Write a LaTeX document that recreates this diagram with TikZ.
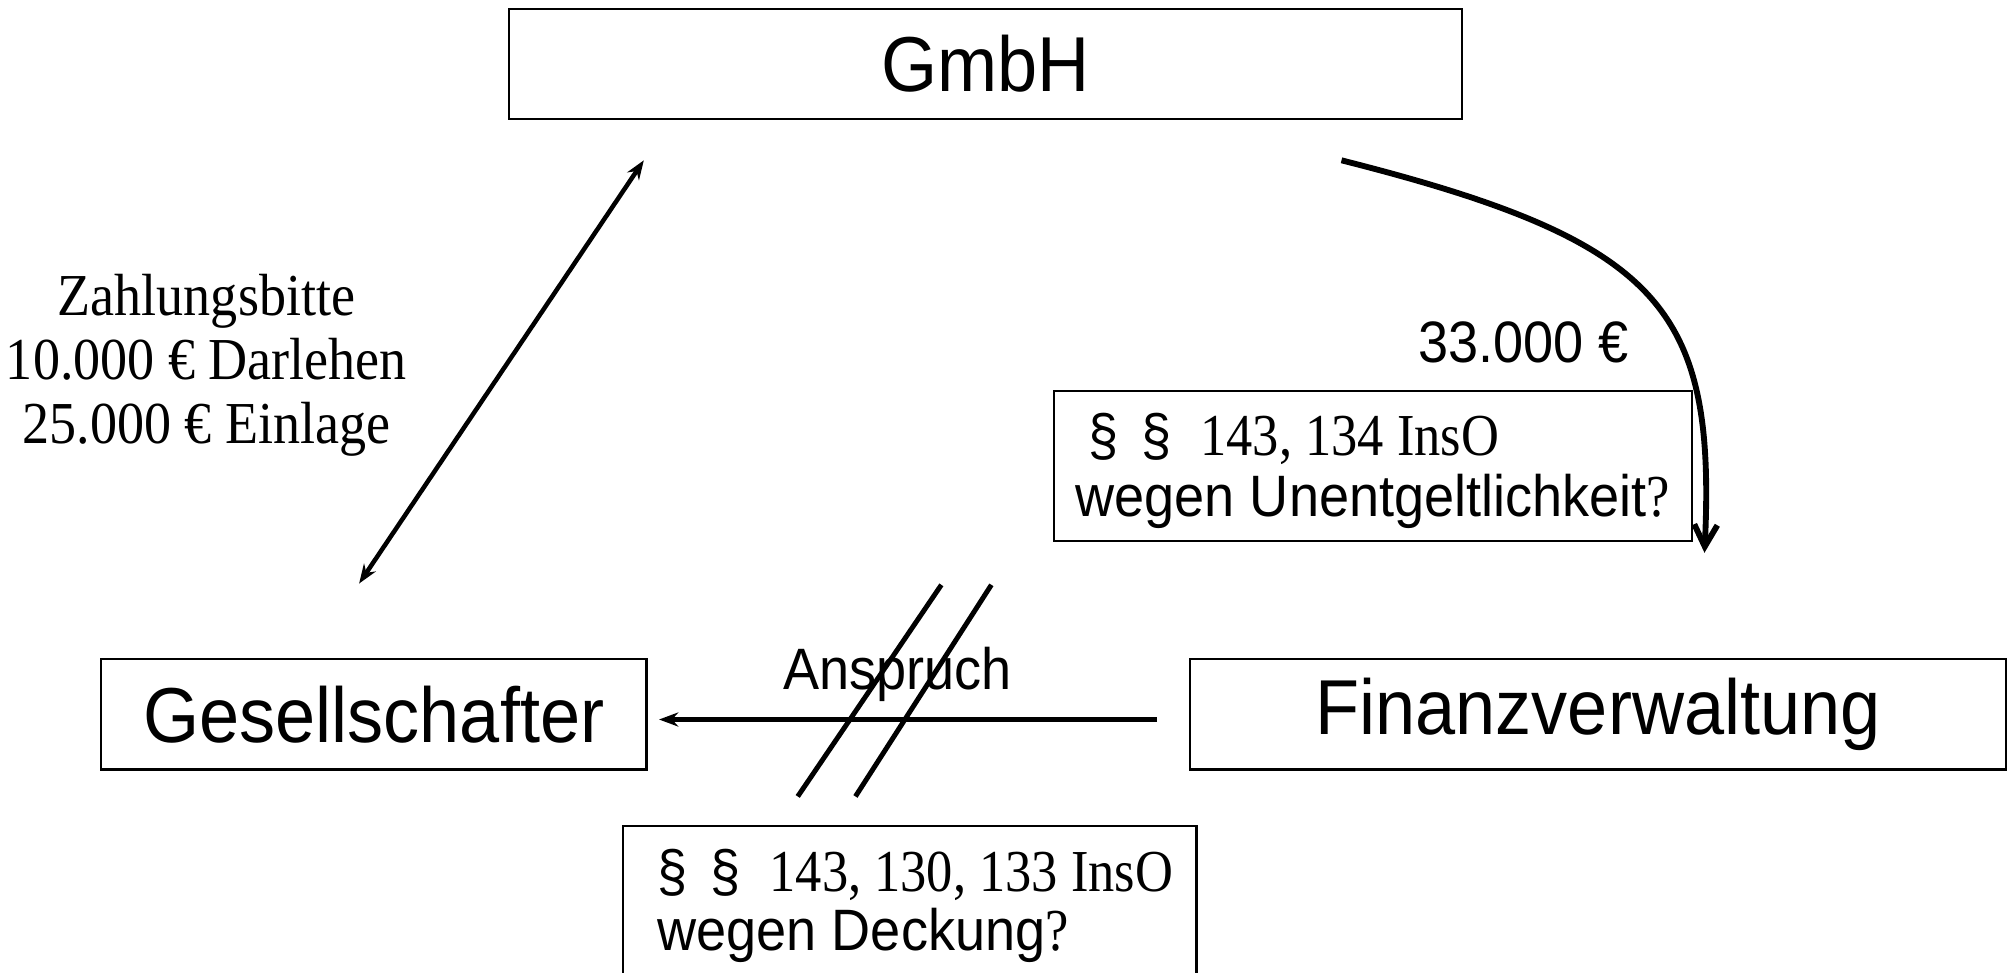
\documentclass[tikz,border=0pt]{standalone}
\usepackage{fontspec}
\usepackage{graphicx}
\setmainfont{Liberation Serif}
\newfontfamily\arialf{Liberation Sans}
\usetikzlibrary{arrows.meta,calc}
\newcommand\vst[1]{\scalebox{1}[1.08]{#1}}
\newcommand\vsr[1]{\scalebox{0.97}[1.1]{#1}}
\newcommand\vsl[1]{\scalebox{1}[1.1]{#1}}
\begin{document}
\begin{tikzpicture}[x=0.1mm,y=-0.1mm,
  >={Stealth[length=1.5mm,width=1.1mm]},
  box/.style={draw,line width=0.5pt,inner sep=0pt,font=\arialf\fontsize{16}{19}\selectfont},
  lawbox/.style={draw,line width=0.5pt,inner sep=0pt},
  lawtext/.style={anchor=base west,inner sep=0pt,font=\rmfamily\fontsize{12}{14}\selectfont},
  conn/.style={line width=1pt},
  slash/.style={line width=1.1pt},
  sans12/.style={font=\arialf\fontsize{12}{14}\selectfont},
  serif12/.style={font=\rmfamily\fontsize{12}{14.2}\selectfont,align=center}
  ]
\clip (0,0) rectangle (1568,758.6);
\useasboundingbox (0,0) rectangle (1568,758.6);

% main boxes
\node[box, minimum width=74.3mm, minimum height=8.6mm] (gmbh) at (768.5,50) {\vst{GmbH}};
\node[box, minimum width=42.5mm, minimum height=8.6mm] (ges) at (291.5,557) {\vst{Gesellschafter}};
\node[box, minimum width=63.6mm, minimum height=8.6mm] (fin) at (1246,557) {\vst{Finanzverwaltung}};

% law boxes
\node[lawbox, minimum width=49.7mm, minimum height=11.7mm] (uf) at (1070.5,363.5) {};
\node[lawtext] (uf1) at (848,355) {\vst{\arialf §\hspace{5pt}§}\hspace{6.5pt}\vsr{143, 134 InsO}};
\node[lawtext] (uf2) at (838,403) {\vst{\arialf wegen Unentgeltlichkeit}\vsr{?}};

\node[lawbox, minimum width=44.7mm, minimum height=12.2mm] (dk) at (709.5,705) {};
\node[lawtext] (dk1) at (512,695) {\vst{\arialf §\hspace{5pt}§}\hspace{6.5pt}\vsr{143, 130, 133 InsO}};
\node[lawtext] (dk2) at (512,741) {\vst{\arialf wegen Deckung}\vsr{?}};

% labels
\node[serif12] (zb) at (161,285) {\vsl{Zahlungsbitte}\\\vsl{10.000 € Darlehen}\\\vsl{25.000 € Einlage}};
\node[sans12] (ans) at (700,526) {\vst{Anspruch}};
\node[sans12] (betrag) at (1188,267) {\vst{33.000 €}};

% connector endpoints
\coordinate (d1) at (280,455);
\coordinate (d2) at (502,125);
\coordinate (c1) at (1046,125);
\coordinate (c2) at (1329,431);
\coordinate (s1a) at (734,456);
\coordinate (s1b) at (622,621);
\coordinate (s2a) at (773,456);
\coordinate (s2b) at (667,621);

% connectors
\draw[conn,<->] (d1) -- (d2);
\draw[conn,->] ($(fin.west)+(-25,4)$) -- ($(ges.east)+(9,4)$);
\draw[line width=1.3pt,-{Straight Barb[length=1.7mm,width=1.8mm]}] (c1) .. controls (1295,188) and (1338,240) .. (c2);
\draw[slash] (s1a) -- (s1b);
\draw[slash] (s2a) -- (s2b);
\end{tikzpicture}
\end{document}
